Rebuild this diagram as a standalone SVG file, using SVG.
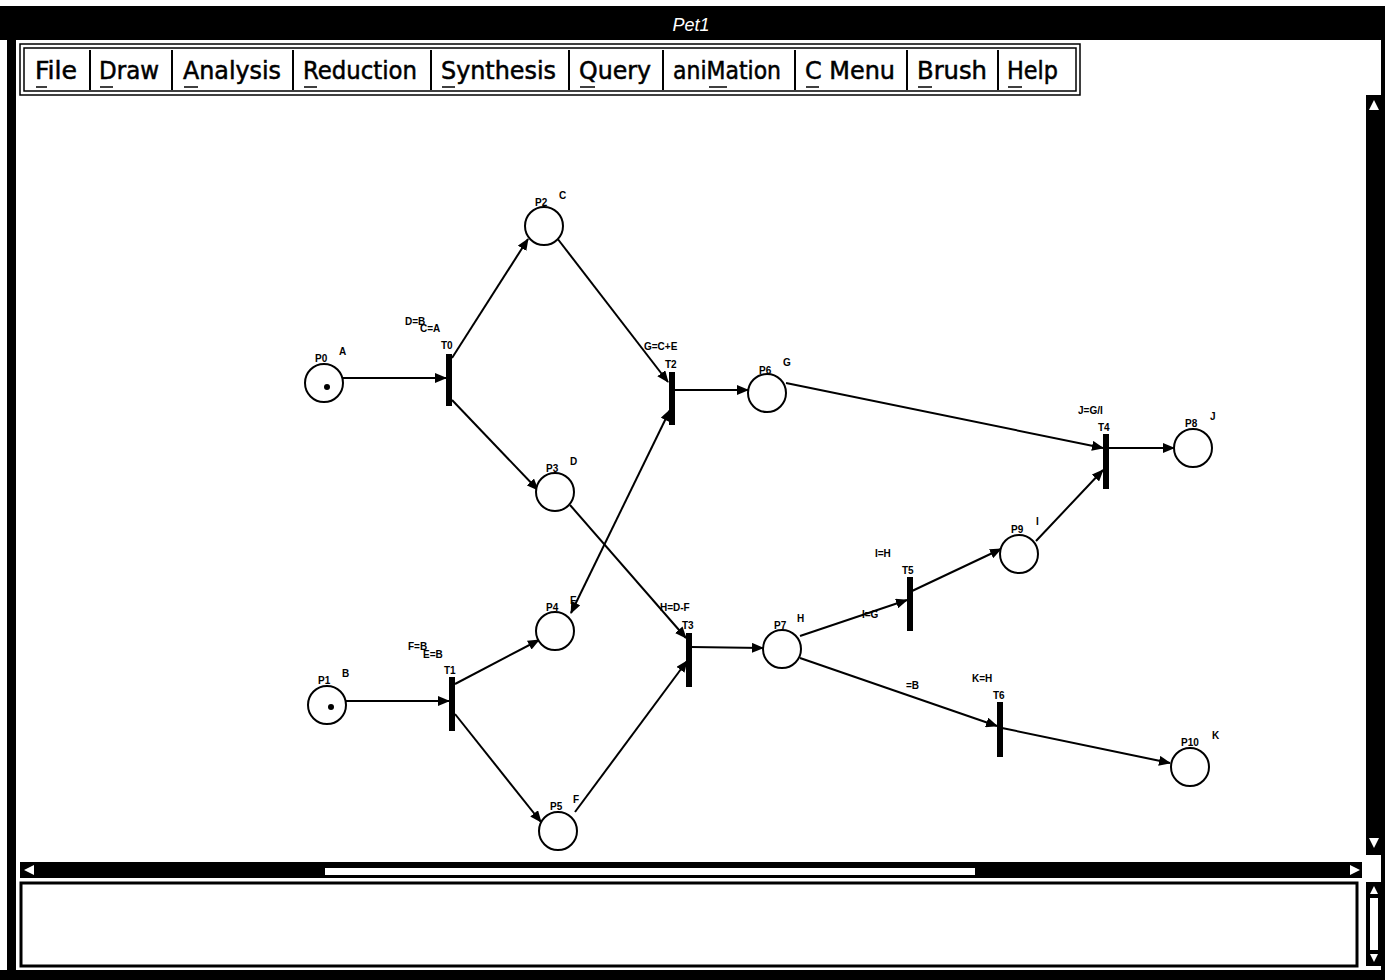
<svg xmlns="http://www.w3.org/2000/svg" width="1385" height="980" viewBox="0 0 1385 980">
<defs>
<marker id="ah" markerWidth="12" markerHeight="10" refX="11" refY="5" orient="auto" markerUnits="userSpaceOnUse">
<path d="M0,0 L12,5 L0,10 z" fill="#000"/>
</marker>
<marker id="as" markerWidth="12" markerHeight="10" refX="1" refY="5" orient="auto" markerUnits="userSpaceOnUse">
<path d="M12,0 L0,5 L12,10 z" fill="#000"/>
</marker>
<style>
.pl{fill:#fff;stroke:#000;stroke-width:2}
.tr{fill:#000}
.arc{stroke:#000;stroke-width:2;fill:none;marker-end:url(#ah)}
.lb{font-family:"Liberation Sans",Arial,sans-serif;font-size:10px;font-weight:bold;fill:#000}
.mn{font-family:"DejaVu Sans Condensed","Liberation Sans",sans-serif;font-size:25px;fill:#000;stroke:#000;stroke-width:0.5}
.mb{fill:#fff;stroke:#000;stroke-width:1.5}
.ul{stroke:#000;stroke-width:1.5}
</style>
</defs>
<rect width="1385" height="980" fill="#fff"/>
<g id="frame">
<rect x="0" y="6" width="1385" height="34" fill="#000"/>
<text x="691" y="31" font-family="Liberation Sans,Arial,sans-serif" font-size="18" font-style="italic" fill="#fff" text-anchor="middle">Pet1</text>
<rect x="7" y="40" width="9" height="935" fill="#000"/>
<rect x="1381" y="40" width="4" height="935" fill="#000"/>
<rect x="0" y="970" width="1385" height="10" fill="#000"/>
<rect x="20" y="44" width="1060" height="51" class="mb"/>
<rect x="24" y="48" width="1052" height="43" class="mb"/>
<g class="mn">
<text x="35" y="79" textLength="42" lengthAdjust="spacingAndGlyphs">File</text>
<text x="99" y="79" textLength="60" lengthAdjust="spacingAndGlyphs">Draw</text>
<text x="183" y="79" textLength="98" lengthAdjust="spacingAndGlyphs">Analysis</text>
<text x="303" y="79" textLength="114" lengthAdjust="spacingAndGlyphs">Reduction</text>
<text x="441" y="79" textLength="115" lengthAdjust="spacingAndGlyphs">Synthesis</text>
<text x="579" y="79" textLength="72" lengthAdjust="spacingAndGlyphs">Query</text>
<text x="673" y="79" textLength="108" lengthAdjust="spacingAndGlyphs">aniMation</text>
<text x="805" y="79" textLength="90" lengthAdjust="spacingAndGlyphs">C Menu</text>
<text x="917" y="79" textLength="70" lengthAdjust="spacingAndGlyphs">Brush</text>
<text x="1007" y="79" textLength="51" lengthAdjust="spacingAndGlyphs">Help</text>
</g>
<g stroke="#000" stroke-width="2">
<line x1="90" y1="50" x2="90" y2="90"/>
<line x1="172" y1="50" x2="172" y2="90"/>
<line x1="293" y1="50" x2="293" y2="90"/>
<line x1="431" y1="50" x2="431" y2="90"/>
<line x1="569" y1="50" x2="569" y2="90"/>
<line x1="663" y1="50" x2="663" y2="90"/>
<line x1="795" y1="50" x2="795" y2="90"/>
<line x1="907" y1="50" x2="907" y2="90"/>
<line x1="998" y1="50" x2="998" y2="90"/>
</g>
<g class="ul">
<line x1="36" y1="87" x2="47" y2="87"/>
<line x1="100" y1="87" x2="113" y2="87"/>
<line x1="184" y1="87" x2="198" y2="87"/>
<line x1="304" y1="87" x2="317" y2="87"/>
<line x1="442" y1="87" x2="455" y2="87"/>
<line x1="580" y1="87" x2="595" y2="87"/>
<line x1="709" y1="87" x2="727" y2="87"/>
<line x1="806" y1="87" x2="819" y2="87"/>
<line x1="918" y1="87" x2="932" y2="87"/>
<line x1="1008" y1="87" x2="1022" y2="87"/>
</g>
<rect x="1366" y="95" width="16" height="760" fill="#000"/>
<path d="M1374,100 L1379,110 L1369,110 z" fill="#fff"/>
<path d="M1374,848 L1379,838 L1369,838 z" fill="#fff"/>
<rect x="20" y="862" width="1342" height="16" fill="#000"/>
<rect x="325" y="868" width="650" height="7" fill="#fff"/>
<path d="M24,870 L34,865 L34,875 z" fill="#fff"/>
<path d="M1360,870 L1350,865 L1350,875 z" fill="#fff"/>
<rect x="21" y="883" width="1336" height="83" fill="#fff" stroke="#000" stroke-width="3"/>
<rect x="1366" y="882" width="16" height="84" fill="#000"/>
<rect x="1370" y="898" width="8" height="52" fill="#fff"/>
<path d="M1374,886 L1378,894 L1370,894 z" fill="#fff"/>
<path d="M1374,962 L1378,954 L1370,954 z" fill="#fff"/>
</g>
<g id="connectors">
<line class="arc" x1="343" y1="378" x2="446" y2="378"/>
<line class="arc" x1="452" y1="358" x2="528" y2="239"/>
<line class="arc" x1="452" y1="400" x2="538" y2="490"/>
<line class="arc" x1="557" y1="238" x2="668" y2="382"/>
<line class="arc" x1="570" y1="505" x2="686" y2="638"/>
<line class="arc" x1="345" y1="701" x2="449" y2="701"/>
<line class="arc" x1="455" y1="684" x2="539" y2="640"/>
<line class="arc" x1="455" y1="714" x2="541" y2="822"/>
<line class="arc" x1="571" y1="613" x2="670" y2="410" marker-start="url(#as)"/>
<line class="arc" x1="575" y1="812" x2="687" y2="661"/>
<line class="arc" x1="674" y1="390" x2="748" y2="390"/>
<line class="arc" x1="786" y1="383" x2="1103" y2="448"/>
<line class="arc" x1="691" y1="647" x2="763" y2="648"/>
<line class="arc" x1="800" y1="636" x2="907" y2="600"/>
<line class="arc" x1="912" y1="591" x2="1001" y2="549"/>
<line class="arc" x1="1036" y1="541" x2="1103" y2="470"/>
<line class="arc" x1="1108" y1="448" x2="1174" y2="448"/>
<line class="arc" x1="800" y1="658" x2="997" y2="726"/>
<line class="arc" x1="1002" y1="728" x2="1170" y2="763"/>
</g>
<g id="P0"><circle class="pl" cx="324" cy="383" r="19"/><circle cx="327" cy="387" r="3"/><text class="lb" x="315" y="362">P0</text><text class="lb" x="339" y="355">A</text></g>
<g id="P1"><circle class="pl" cx="327" cy="705" r="19"/><circle cx="331" cy="707" r="3"/><text class="lb" x="318" y="684">P1</text><text class="lb" x="342" y="677">B</text></g>
<g id="P2"><circle class="pl" cx="544" cy="226" r="19"/><text class="lb" x="535" y="206">P2</text><text class="lb" x="559" y="199">C</text></g>
<g id="P3"><circle class="pl" cx="555" cy="492" r="19"/><text class="lb" x="546" y="472">P3</text><text class="lb" x="570" y="465">D</text></g>
<g id="P4"><circle class="pl" cx="555" cy="631" r="19"/><text class="lb" x="546" y="611">P4</text><text class="lb" x="570" y="604">E</text></g>
<g id="P5"><circle class="pl" cx="558" cy="831" r="19"/><text class="lb" x="550" y="810">P5</text><text class="lb" x="573" y="803">F</text></g>
<g id="P6"><circle class="pl" cx="767" cy="393" r="19"/><text class="lb" x="759" y="374">P6</text><text class="lb" x="783" y="366">G</text></g>
<g id="P7"><circle class="pl" cx="782" cy="649" r="19"/><text class="lb" x="774" y="629">P7</text><text class="lb" x="797" y="622">H</text></g>
<g id="P8"><circle class="pl" cx="1193" cy="448" r="19"/><text class="lb" x="1185" y="427">P8</text><text class="lb" x="1210" y="420">J</text></g>
<g id="P9"><circle class="pl" cx="1019" cy="554" r="19"/><text class="lb" x="1011" y="533">P9</text><text class="lb" x="1036" y="525">I</text></g>
<g id="P10"><circle class="pl" cx="1190" cy="767" r="19"/><text class="lb" x="1181" y="746">P10</text><text class="lb" x="1212" y="739">K</text></g>
<g id="T0"><rect class="tr" x="446" y="354" width="6" height="52"/><text class="lb" x="441" y="349">T0</text><text class="lb" x="405" y="325">D=B</text><text class="lb" x="420" y="332">C=A</text></g>
<g id="T1"><rect class="tr" x="449" y="677" width="6" height="54"/><text class="lb" x="444" y="674">T1</text><text class="lb" x="408" y="650">F=B</text><text class="lb" x="423" y="658">E=B</text></g>
<g id="T2"><rect class="tr" x="669" y="372" width="6" height="53"/><text class="lb" x="665" y="368">T2</text><text class="lb" x="644" y="350">G=C+E</text></g>
<g id="T3"><rect class="tr" x="686" y="633" width="6" height="54"/><text class="lb" x="682" y="629">T3</text><text class="lb" x="660" y="611">H=D-F</text></g>
<g id="T4"><rect class="tr" x="1103" y="434" width="6" height="55"/><text class="lb" x="1098" y="431">T4</text><text class="lb" x="1078" y="414">J=G/I</text></g>
<g id="T5"><rect class="tr" x="907" y="577" width="6" height="54"/><text class="lb" x="902" y="574">T5</text><text class="lb" x="875" y="557">I=H</text><text class="lb" x="862" y="618">I=G</text></g>
<g id="T6"><rect class="tr" x="997" y="702" width="6" height="55"/><text class="lb" x="993" y="699">T6</text><text class="lb" x="972" y="682">K=H</text><text class="lb" x="906" y="689">=B</text></g>
</svg>
